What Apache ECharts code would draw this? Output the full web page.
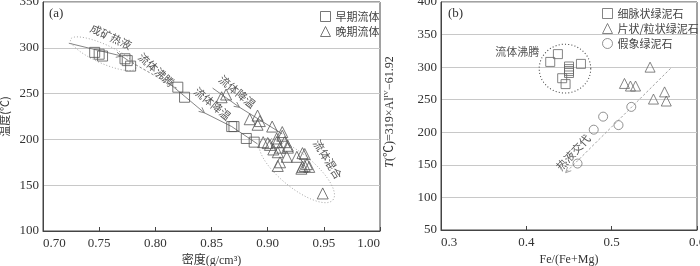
<!DOCTYPE html>
<html><head><meta charset="utf-8">
<script src="https://cdn.jsdelivr.net/npm/echarts@6/dist/echarts.min.js"></script>
<style>html,body{margin:0;padding:0;background:#fff}#c{width:700px;height:266px}</style>
</head><body><div id="c"></div>
<script>
// ---- Panel (a): density (g/cm3) vs temperature (°C) ----
const earlyFluid = [[0.746,295],[0.750,293],[0.753,291],[0.773,288],[0.775,286],[0.778,280],
  [0.820,257],[0.826,246],[0.868,214],[0.870,214],[0.881,201],[0.888,197]];
const lateFluid = [[0.859,246],[0.863,249],[0.884,222],[0.891,226],[0.893,220],[0.891,216],[0.904,214],[0.913,208],
  [0.896,197],[0.900,196],[0.902,194],[0.908,201],[0.913,204],[0.908,197],[0.915,197],[0.905,189],[0.909,186],
  [0.911,191],[0.918,191],[0.918,193],[0.911,175],[0.909,171],[0.917,181],[0.926,181],[0.931,185],[0.933,184],
  [0.930,168],[0.931,170],[0.933,171],[0.935,173],[0.937,170],[0.949,141]];
// ---- Panel (b): Fe/(Fe+Mg) vs T ----
const veinChlorite = [[0.428,308],[0.437,320],[0.442,283],[0.446,274],[0.450,291],[0.450,297],[0.450,294],[0.450,301],[0.464,305]];
const flakyChlorite = [[0.545,300],[0.515,275],[0.522,271],[0.528,271],[0.549,251],[0.562,262],[0.564,248]];
const pseudoChlorite = [[0.523,239],[0.490,224],[0.508,211],[0.479,204],[0.460,152]];

const legendA = ['早期流体','晚期流体'];
const legendB = ['细脉状绿泥石','片状/粒状绿泥石','假象绿泥石'];

// annotations (data coordinates)
const annoLinesA = [
  {pts:[[0.723,305],[0.770,291]], arrow:true},
  {pts:[[0.770,291],[0.776,286]]},
  {pts:[[0.779,284],[0.819,256]], dash:true},
  {pts:[[0.8125,261],[0.8437,229]], arrow:true},
  {pts:[[0.8437,229],[0.868,214],[0.891,195]]},
  {pts:[[0.851,256],[0.875,235]], arrow:true},
  {pts:[[0.875,235],[0.913,206]]}
];
const annoEllipsesA = [
  {c:[0.7536,293.5], a:[0.0290,-15.8], b:[-0.0032,-9.5]},
  {c:[0.926,166], a:[0.0321,-32.1], b:[0.0096,14.2]}
];
const annoTextsA = [
  {t:'成矿热液', p:[0.7605,312], r:-25},
  {t:'流体沸腾', p:[0.801,276], r:-42},
  {t:'流体降温', p:[0.851,239], r:-40},
  {t:'流体降温', p:[0.873,252], r:-40},
  {t:'流体混合', p:[0.9535,178], r:-58}
];
const annoLinesB = [
  {pts:[[0.569,298],[0.446,138]], arrow:true, dash:true, light:true}
];
const annoEllipsesB = [
  {c:[0.4453,297.7], a:[0.0302,0], b:[0,37.5], dark:true}
];
const annoTextsB = [
  {t:'流体沸腾', p:[0.3895,323], r:0},
  {t:'热液交代', p:[0.455,169], r:47}
];

const FONT = '"Liberation Serif","Noto Sans CJK SC",serif';
const CJK = '"Noto Sans CJK SC","Liberation Serif",serif';

function annoRender(lines, ellipses, texts) {
  return function(params, api) {
    const ch = [];
    lines.forEach(l => {
      const px = l.pts.map(p => api.coord(p));
      const col = l.light ? '#999' : '#777';
      ch.push({type:'polyline', shape:{points:px}, style:{stroke:col, lineWidth:0.9, fill:null, lineDash: l.dash ? [2.5,2] : null}});
      if (l.arrow) {
        const e = px[px.length-1], s = px[px.length-2];
        const ang = Math.atan2(e[1]-s[1], e[0]-s[0]);
        const L = 6, w = 0.45;
        const p1 = [e[0]-L*Math.cos(ang-w), e[1]-L*Math.sin(ang-w)];
        const p2 = [e[0]-L*Math.cos(ang+w), e[1]-L*Math.sin(ang+w)];
        ch.push({type:'polyline', shape:{points:[p1,e,p2]}, style:{stroke:col, lineWidth:0.9, fill:null}});
      }
    });
    ellipses.forEach(el => {
      const pts = [];
      for (let i=0;i<=96;i++) {
        const t = i/96*2*Math.PI;
        pts.push(api.coord([el.c[0]+el.a[0]*Math.cos(t)+el.b[0]*Math.sin(t), el.c[1]+el.a[1]*Math.cos(t)+el.b[1]*Math.sin(t)]));
      }
      ch.push({type:'polyline', shape:{points:pts}, style:{stroke: el.dark ? '#444' : '#999', lineWidth: el.dark?1.1:0.9, fill:null, lineDash: el.dark ? [1,2.2] : [1,2]}});
    });
    texts.forEach(tx => {
      const p = api.coord(tx.p);
      ch.push({type:'text', x:p[0], y:p[1], rotation: tx.r*Math.PI/180,
        style:{text:tx.t, fill:'#555', font:'11px '+CJK, align:'center', verticalAlign:'middle'}});
    });
    return {type:'group', children:ch};
  };
}

const hollow = c => ({color:'rgba(0,0,0,0)', borderColor:c, borderWidth:1});
const axisLabelStyle = {fontFamily:FONT, fontSize:13, color:'#333'};

const chart = echarts.init(document.getElementById('c'), null, {renderer:'canvas'});
chart.setOption({
  animation:false,
  backgroundColor:'#fff',
  graphic:[
    {type:'text', left:49, top:7, style:{text:'(a)', font:'13px '+FONT, fill:'#333'}},
    {type:'text', left:448, top:7, style:{text:'(b)', font:'13px '+FONT, fill:'#333'}},
    {type:'text', x:390, y:112, rotation:Math.PI/2,
     style:{text:'{i|T}{n|(℃)=319×Al}{s|IV}{n|−61.92}', align:'center', verticalAlign:'middle',
       rich:{i:{fontFamily:FONT, fontStyle:'italic', fontSize:12, fill:'#333', color:'#333'},
             n:{fontFamily:FONT, fontSize:12, fill:'#333', color:'#333'},
             s:{fontFamily:FONT, fontSize:7, fill:'#333', color:'#333', padding:[0,0,7,0]}}}}
  ],
  grid:[
    {left:43, right:320, top:2, bottom:35, outerBoundsMode:'none', containLabel:false, show:true, borderColor:'#444', borderWidth:1, backgroundColor:'rgba(0,0,0,0)'},
    {left:441, right:3, top:2, bottom:36, outerBoundsMode:'none', containLabel:false, show:true, borderColor:'#444', borderWidth:1, backgroundColor:'rgba(0,0,0,0)'}
  ],
  legend:[
    {data:legendA, orient:'vertical', left:315, top:6, itemWidth:10, itemHeight:10, itemGap:4,
     itemStyle:{borderWidth:1},
     textStyle:{fontFamily:CJK, fontSize:11, color:'#444'}, selectedMode:false},
    {data:legendB, orient:'vertical', left:597, top:3, itemWidth:10, itemHeight:10, itemGap:4,
     itemStyle:{borderWidth:1},
     textStyle:{fontFamily:CJK, fontSize:11, color:'#444'}, selectedMode:false}
  ],
  xAxis:[
    {gridIndex:0, type:'value', min:0.70, max:1.00, interval:0.05,
     name:'密度(g/cm³)', nameLocation:'middle', nameGap:21, nameTextStyle:{fontFamily:FONT, fontSize:12, color:'#333'},
     axisLine:{show:true, lineStyle:{color:'#444'}}, axisTick:{show:true, inside:true, length:4, lineStyle:{color:'#444'}},
     axisLabel:Object.assign({margin:6, formatter:v=>v.toFixed(2), alignMinLabel:'left', alignMaxLabel:'right'}, axisLabelStyle),
     splitLine:{show:false}},
    {gridIndex:1, type:'value', min:0.3, max:0.6, interval:0.1,
     name:'Fe/(Fe+Mg)', nameLocation:'middle', nameGap:21, nameTextStyle:{fontFamily:FONT, fontSize:12, color:'#333'},
     axisLine:{show:true, lineStyle:{color:'#444'}}, axisTick:{show:true, inside:true, length:4, lineStyle:{color:'#444'}},
     axisLabel:Object.assign({margin:6, formatter:v=>v.toFixed(1), alignMinLabel:'left'}, axisLabelStyle),
     splitLine:{show:false}}
  ],
  yAxis:[
    {gridIndex:0, type:'value', min:100, max:350, interval:50,
     name:'温度(℃)', nameLocation:'middle', nameGap:33, nameTextStyle:{fontFamily:CJK, fontSize:11, color:'#333'},
     axisLine:{show:true, lineStyle:{color:'#444'}}, axisTick:{show:false},
     axisLabel:Object.assign({margin:4}, axisLabelStyle),
     splitLine:{show:true, lineStyle:{color:'#c8c8c8', width:1}}},
    {gridIndex:1, type:'value', min:50, max:400, interval:50,
     axisLine:{show:true, lineStyle:{color:'#444'}}, axisTick:{show:false},
     axisLabel:Object.assign({margin:4}, axisLabelStyle),
     splitLine:{show:true, lineStyle:{color:'#c8c8c8', width:1}}}
  ],
  series:[
    {type:'custom', xAxisIndex:0, yAxisIndex:0, silent:true, data:[[0.8,200]], z:1,
     renderItem: annoRender(annoLinesA, annoEllipsesA, annoTextsA)},
    {type:'custom', xAxisIndex:1, yAxisIndex:1, silent:true, data:[[0.45,200]], z:1,
     renderItem: annoRender(annoLinesB, annoEllipsesB, annoTextsB)},
    {type:'scatter', name:'早期流体', xAxisIndex:0, yAxisIndex:0, data:earlyFluid, symbol:'rect', symbolSize:10, itemStyle:hollow('#555'), z:3},
    {type:'scatter', name:'晚期流体', xAxisIndex:0, yAxisIndex:0, data:lateFluid, symbol:'triangle', symbolSize:11, itemStyle:hollow('#555'), z:3},
    {type:'scatter', name:'细脉状绿泥石', xAxisIndex:1, yAxisIndex:1, data:veinChlorite, symbol:'rect', symbolSize:9, itemStyle:hollow('#666'), z:3},
    {type:'scatter', name:'片状/粒状绿泥石', xAxisIndex:1, yAxisIndex:1, data:flakyChlorite, symbol:'triangle', symbolSize:10, itemStyle:hollow('#666'), z:3},
    {type:'scatter', name:'假象绿泥石', xAxisIndex:1, yAxisIndex:1, data:pseudoChlorite, symbol:'circle', symbolSize:9, itemStyle:hollow('#777'), z:3}
  ]
});
</script>
</body></html>
